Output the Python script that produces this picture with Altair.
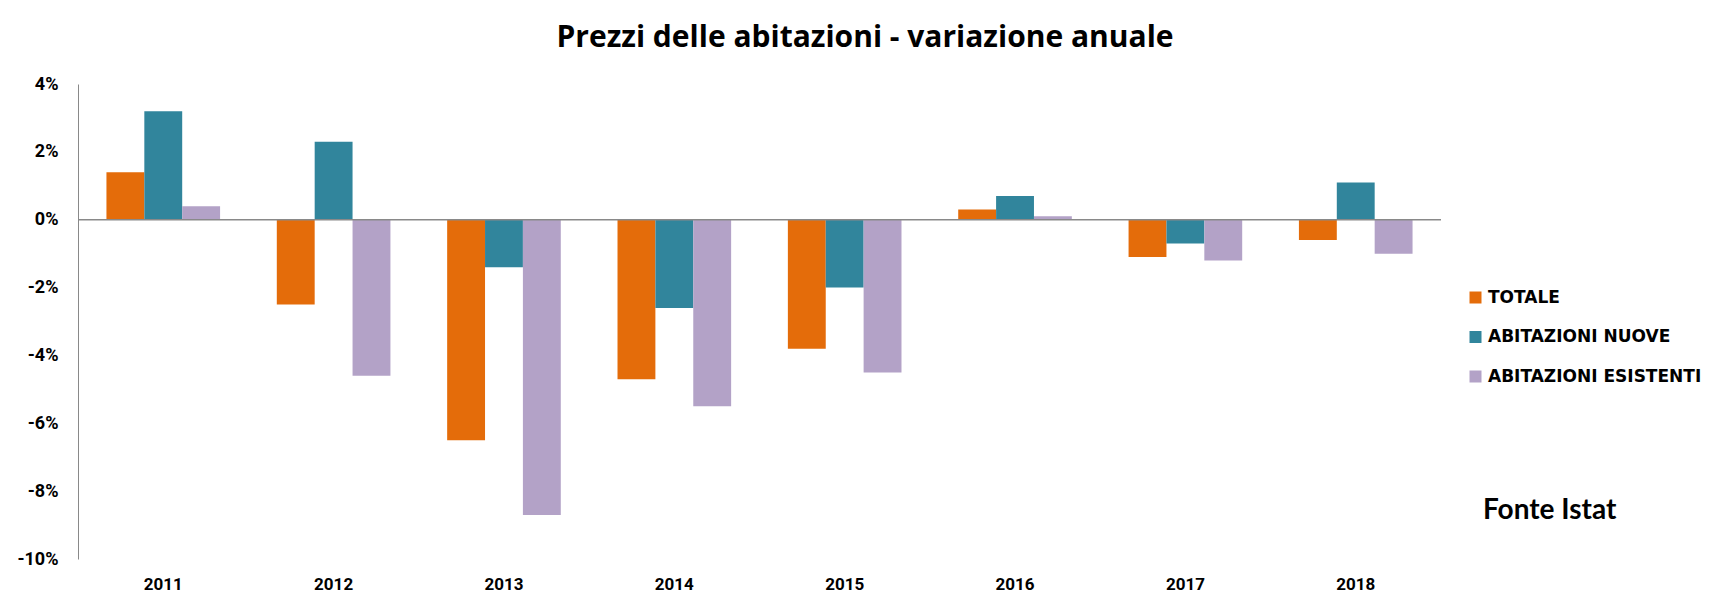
import altair as alt
import pandas as pd

years = ["2011", "2012", "2013", "2014", "2015", "2016", "2017", "2018"]
series = ["TOTALE", "ABITAZIONI NUOVE", "ABITAZIONI ESISTENTI"]
totale = [1.4, -2.5, -6.5, -4.7, -3.8, 0.3, -1.1, -0.6]
nuove = [3.2, 2.3, -1.4, -2.6, -2.0, 0.7, -0.7, 1.1]
esistenti = [0.4, -4.6, -8.7, -5.5, -4.5, 0.1, -1.2, -1.0]
colors = ["#E46C0A", "#31859C", "#B3A2C7"]
y_ticks = [-10, -8, -6, -4, -2, 0, 2, 4]
title_text = "Prezzi delle abitazioni - variazione anuale"
source_text = "Fonte Istat"

rows = []
for s, vals in zip(series, [totale, nuove, esistenti]):
    for yr, v in zip(years, vals):
        rows.append({"anno": yr, "serie": s, "valore": v})
df = pd.DataFrame(rows)

W, H = 1363, 475

bars = alt.Chart(df).mark_bar().encode(
    x=alt.X("anno:N", sort=years,
            scale=alt.Scale(paddingInner=0.333, paddingOuter=0.167),
            axis=alt.Axis(title=None, orient="bottom", domain=False, ticks=False,
                          labelAngle=0, labelFont="Roboto", labelFontWeight="bold",
                          labelFontSize=17, labelColor="#000000", labelPadding=17)),
    xOffset=alt.XOffset("serie:N", sort=series),
    y=alt.Y("valore:Q",
            scale=alt.Scale(domain=[-10, 4], nice=False),
            axis=alt.Axis(title=None, values=y_ticks, grid=False, ticks=False,
                          domainColor="#898989", domainWidth=1,
                          labelExpr="datum.value + '%'",
                          labelFont="Roboto", labelFontWeight="bold",
                          labelFontSize=18, labelColor="#000000", labelPadding=20)),
    color=alt.Color("serie:N", sort=series,
                    scale=alt.Scale(domain=series, range=colors),
                    legend=alt.Legend(title=None, orient="none", legendX=1389, legendY=205,
                                      symbolType="square", symbolSize=144,
                                      symbolStrokeWidth=0, symbolOpacity=1,
                                      labelFont="DejaVu Sans", labelFontWeight="bold",
                                      labelFontSize=17, labelColor="#000000",
                                      labelLimit=400,
                                      labelOffset=4, rowPadding=21.5)),
)

zero = alt.Chart(pd.DataFrame({"v": [0]})).mark_rule(color="#898989", strokeWidth=1.5).encode(
    y=alt.Y("v:Q")
)

source = alt.Chart(pd.DataFrame({"t": [source_text]})).mark_text(
    font="Lato", fontWeight="bold", fontSize=28, align="left", baseline="alphabetic",
    color="#000000"
).encode(x=alt.value(1405), y=alt.value(435), text="t:N")

title = alt.Chart(pd.DataFrame({"t": [title_text]})).mark_text(
    font="Open Sans", fontWeight="bold", fontSize=30, align="center", baseline="alphabetic",
    color="#000000"
).encode(x=alt.value(787), y=alt.value(-37), text="t:N")

chart = alt.layer(bars, zero, source, title).properties(
    width=W, height=H,
    autosize=alt.AutoSizeParams(type="none"),
    padding={"left": 70, "top": 76, "right": 270, "bottom": 40},
).configure_view(stroke=None)

chart.save("out.html", embed_options={"renderer": "svg", "actions": False})
